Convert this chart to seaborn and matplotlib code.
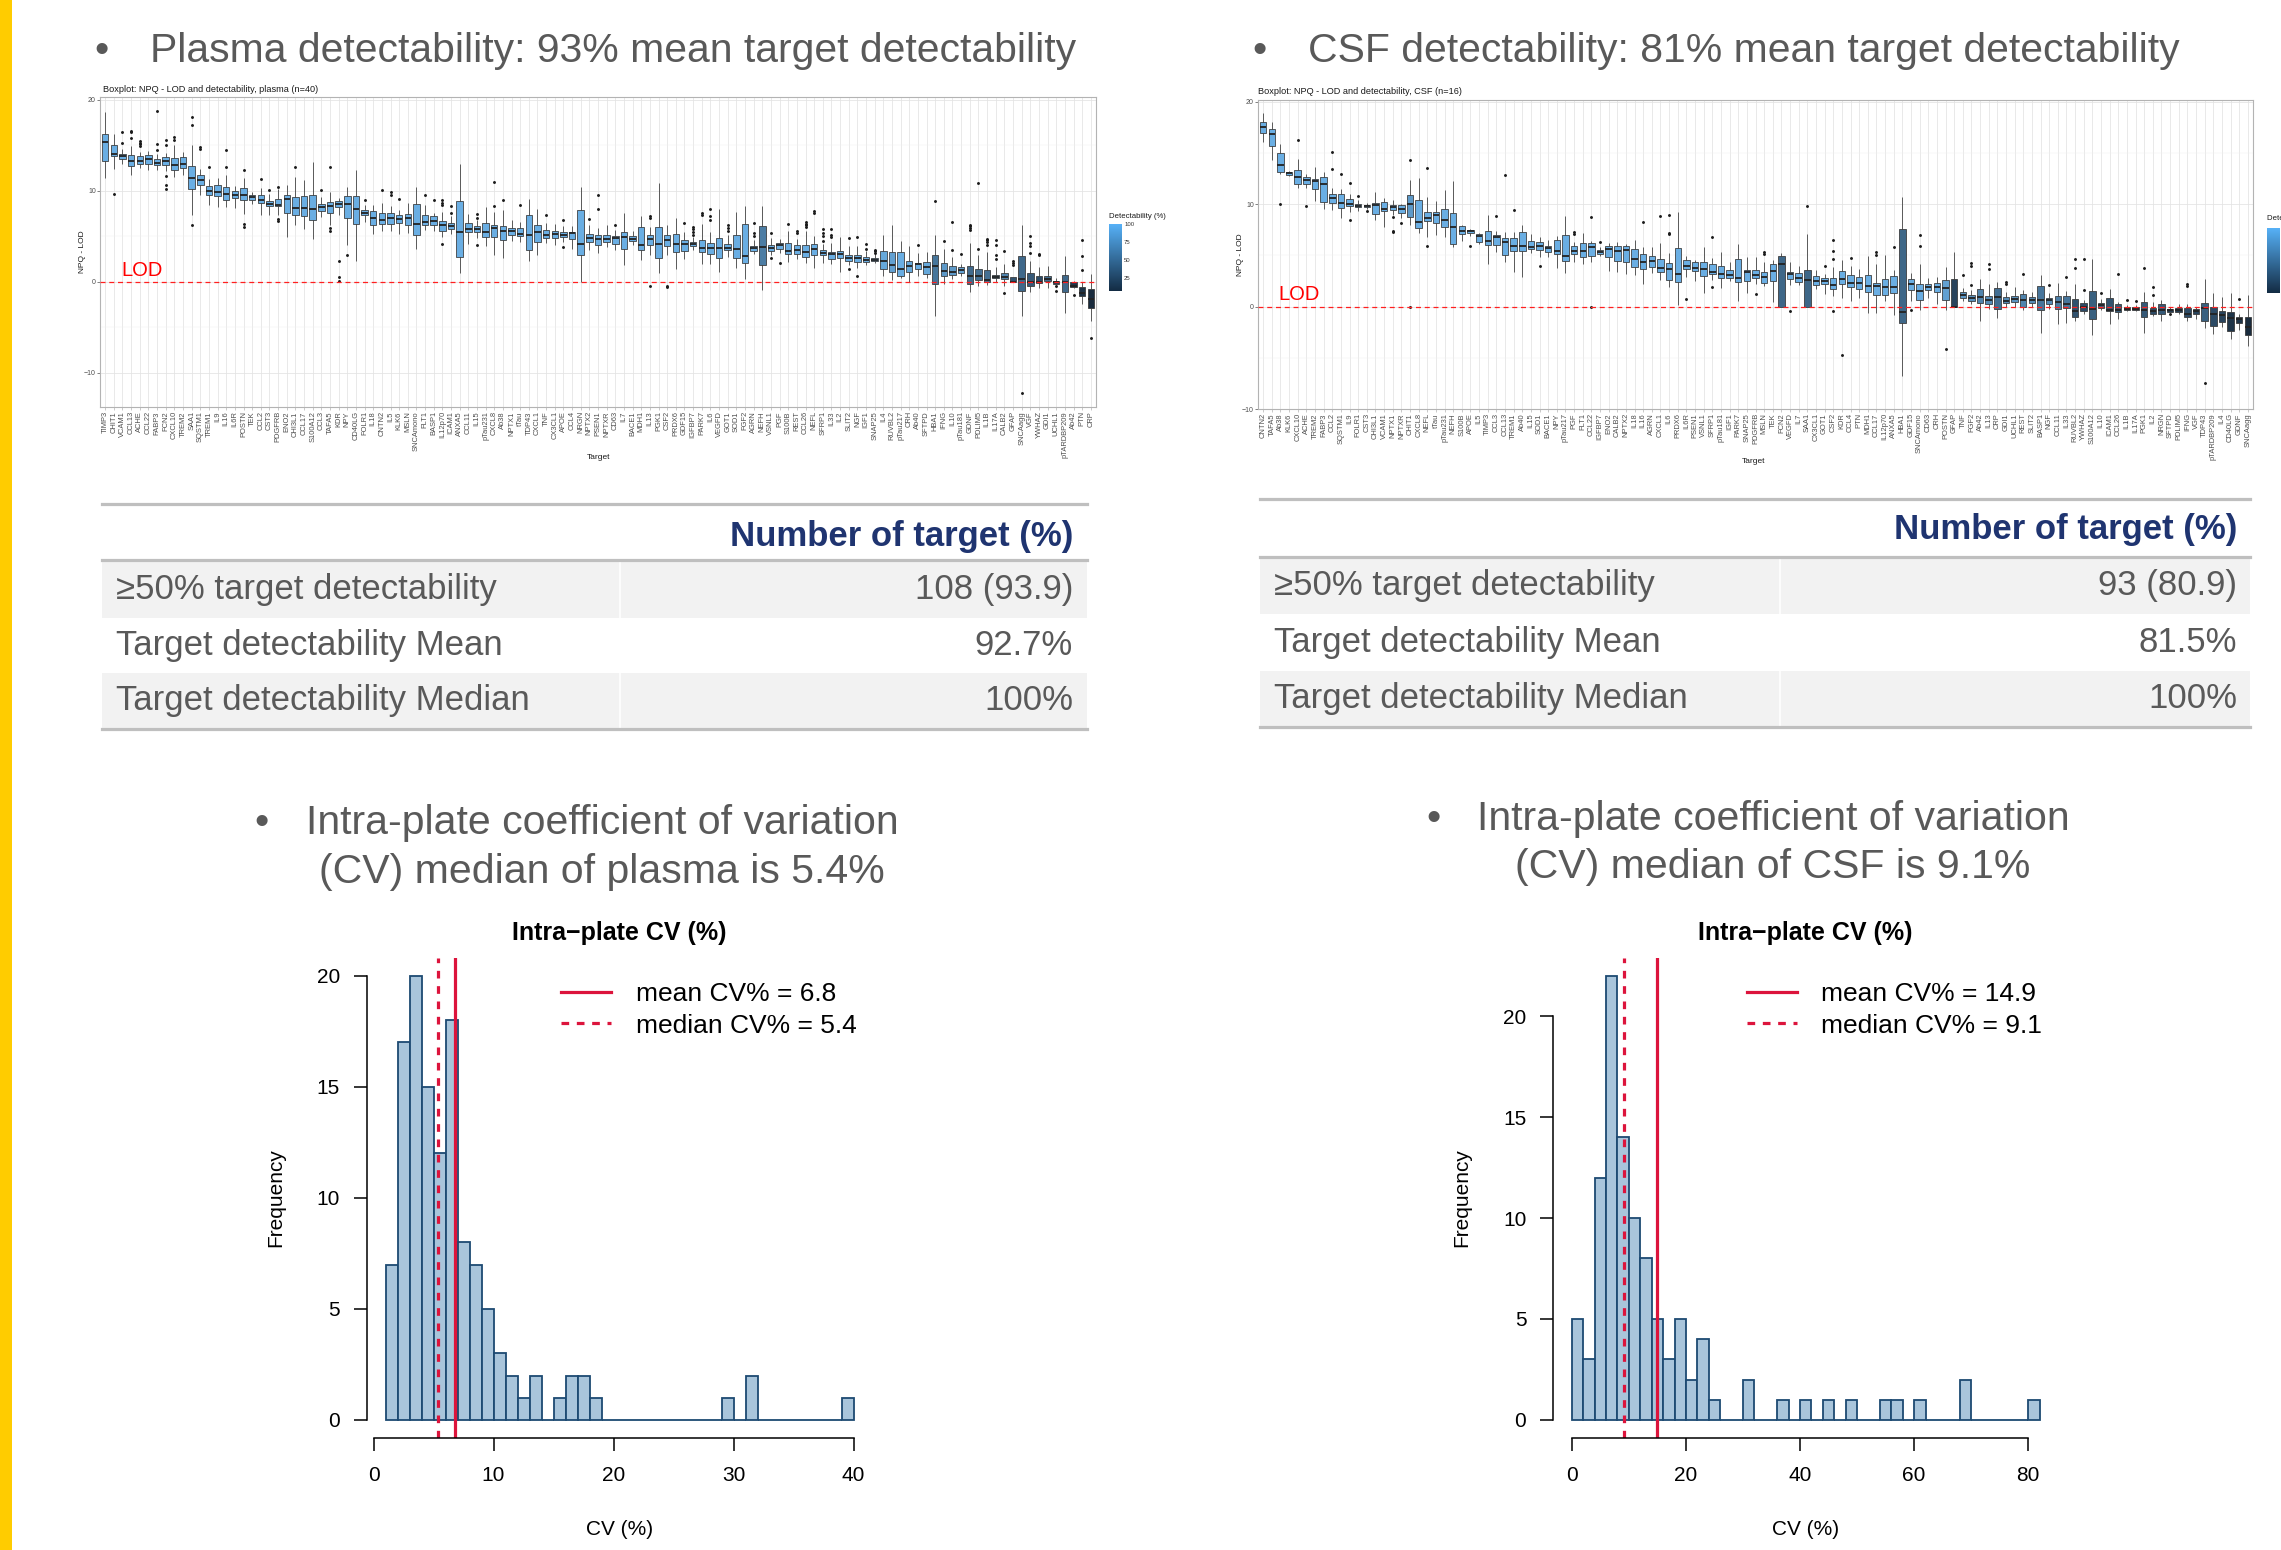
import numpy as np
import pandas as pd
import seaborn as sns
import matplotlib.pyplot as plt
from matplotlib.colors import LinearSegmentedColormap, Normalize
from matplotlib.cm import ScalarMappable
from matplotlib.ticker import MultipleLocator
from matplotlib.patches import Rectangle
from matplotlib.lines import Line2D

plt.rcParams['font.family'] = ['Liberation Sans', 'DejaVu Sans']

W, H = 2281, 1550

# ---------------- boxplot data, plasma (NPQ - LOD) ----------------
plasma_targets = ['TIMP3', 'CHIT1', 'VCAM1', 'CCL13', 'ACHE', 'CCL22', 'FABP3', 'FCN2', 'CXCL10', 'TREM2',
                  'SAA1', 'SQSTM1', 'TREM1', 'IL9', 'IL16', 'IL6R', 'POSTN', 'TEK', 'CCL2', 'CST3',
                  'PDGFRB', 'ENO2', 'CHI3L1', 'CCL17', 'S100A12', 'CCL3', 'TAFA5', 'KDR', 'NPY', 'CD40LG',
                  'FOLR1', 'IL18', 'CNTN2', 'IL5', 'KLK6', 'MSLN', 'SNCAmono', 'FLT1', 'BASP1', 'IL12p70',
                  'ICAM1', 'ANXA5', 'CCL11', 'IL15', 'pTau231', 'CXCL8', 'Ab38', 'NPTX1', 'tTau', 'TDP43',
                  'CXCL1', 'TNF', 'CX3CL1', 'APOE', 'CCL4', 'NRGN', 'NPTX2', 'PSEN1', 'NPTXR', 'CD63',
                  'IL7', 'BACE1', 'MDH1', 'IL13', 'PGK1', 'CSF2', 'PRDX6', 'GDF15', 'IGFBP7', 'PARK7',
                  'IL6', 'VEGFD', 'GOT1', 'SOD1', 'FGF2', 'AGRN', 'NEFH', 'VSNL1', 'PGF', 'S100B',
                  'REST', 'CCL26', 'NEFL', 'SFRP1', 'IL33', 'IL2', 'SLIT2', 'NGF', 'IGF1', 'SNAP25',
                  'IL4', 'RUVBL2', 'pTau217', 'CRH', 'Ab40', 'SFTPD', 'HBA1', 'IFNG', 'IL10', 'pTau181',
                  'GDNF', 'PDLIM5', 'IL1B', 'IL17A', 'CALB2', 'GFAP', 'SNCAagg', 'VGF', 'YWHAZ', 'GDI1',
                  'UCHL1', 'pTARDBP209', 'Ab42', 'PTN', 'CRP']
plasma_lo = [11.4, 12.4, 12.9, 11.8, 12.5, 12.3, 12.3, 12.2, 11.5, 11.7,
             7.3, 9.5, 8.5, 8.2, 8.2, 8.1, 7.5, 8.6, 7.4, 7.4,
             7.4, 4.9, 6.3, 5.8, 4.7, 7.1, 6.3, 7.3, 4.0, 2.3,
             6.6, 5.3, 5.6, 5.6, 5.3, 5.4, 3.6, 5.7, 5.6, 4.9,
             5.3, 1.0, 4.2, 4.8, 3.9, 2.9, 2.6, 4.5, 4.4, 2.3,
             2.9, 4.3, 4.0, 4.4, 3.6, 0.0, 3.5, 3.2, 3.8, 3.5,
             1.9, 4.1, 2.4, 3.0, 1.0, 3.0, 1.4, 2.5, 3.5, 2.0,
             2.0, 1.1, 2.7, 1.5, 0.3, 3.1, -0.9, 3.0, 3.2, 2.2,
             2.5, 2.1, 1.5, 2.1, 2.0, 1.1, 1.8, 1.5, 1.9, 2.1,
             0.7, 0.2, 0.4, 0.0, 0.7, 0.4, -3.8, -0.2, 0.3, 0.6,
             -1.1, -0.4, -0.3, 0.0, -0.4, 0.0, -3.8, -1.1, -0.7, -0.7,
             -0.2, -3.4, -0.7, -2.4, -4.3]
plasma_q1 = [13.3, 13.8, 13.5, 12.7, 13.0, 13.0, 12.8, 12.8, 12.3, 12.5,
             10.2, 10.7, 9.6, 9.4, 9.0, 9.2, 9.0, 9.0, 8.7, 8.3,
             8.3, 7.6, 7.4, 7.2, 6.8, 7.8, 7.6, 8.2, 7.0, 6.4,
             7.3, 6.3, 6.4, 6.4, 6.5, 6.3, 5.1, 6.3, 6.2, 5.6,
             5.8, 2.7, 5.5, 5.5, 4.9, 4.9, 4.6, 5.2, 5.0, 3.5,
             4.4, 4.8, 4.8, 4.9, 4.7, 2.9, 4.4, 4.1, 4.4, 4.2,
             3.6, 4.5, 3.5, 4.0, 2.6, 3.9, 3.3, 3.4, 3.9, 3.3,
             3.1, 2.6, 3.5, 2.6, 2.1, 3.4, 1.8, 3.4, 3.6, 3.1,
             3.1, 2.7, 2.9, 3.0, 2.5, 2.6, 2.3, 2.2, 2.2, 2.3,
             1.4, 1.1, 0.7, 1.1, 1.4, 0.9, -0.2, 0.6, 0.8, 1.0,
             -0.2, 0.2, 0.0, 0.4, 0.3, 0.0, -1.0, -0.4, -0.1, 0.1,
             -0.2, -1.1, -0.6, -1.6, -2.9]
plasma_med = [15.4, 14.1, 13.8, 13.3, 13.3, 13.5, 13.1, 13.3, 12.8, 12.9,
              11.4, 11.2, 10.0, 9.9, 9.7, 9.6, 9.6, 9.3, 9.0, 8.6,
              8.5, 9.1, 8.1, 8.1, 8.0, 8.2, 8.3, 8.6, 8.6, 8.0,
              7.6, 7.0, 6.8, 7.0, 6.9, 7.0, 6.4, 6.6, 6.7, 6.2,
              6.1, 5.5, 5.8, 5.8, 5.5, 5.9, 5.6, 5.6, 5.3, 5.2,
              5.5, 5.2, 5.3, 5.1, 5.4, 4.2, 4.8, 4.7, 4.7, 4.8,
              4.9, 4.7, 4.1, 4.7, 4.2, 4.6, 4.2, 4.2, 4.2, 3.7,
              3.7, 3.7, 3.7, 3.6, 2.8, 3.7, 3.8, 3.7, 4.0, 3.4,
              3.5, 3.3, 3.6, 3.2, 3.1, 3.1, 2.6, 2.6, 2.4, 2.4,
              2.3, 1.9, 1.4, 1.7, 2.0, 1.6, 1.7, 1.2, 1.1, 1.3,
              0.6, 0.6, 0.2, 0.5, 0.5, 0.0, 0.3, 0.0, 0.0, 0.3,
              0.0, 0.0, -0.4, -1.2, -1.9]
plasma_q3 = [16.3, 15.0, 14.1, 13.9, 13.8, 13.9, 13.5, 13.7, 13.6, 13.7,
             12.7, 11.8, 10.5, 10.7, 10.4, 10.0, 10.3, 9.6, 9.6, 8.9,
             9.1, 9.6, 9.3, 9.4, 9.5, 8.6, 8.8, 8.9, 9.4, 9.4,
             7.9, 7.8, 7.6, 7.6, 7.4, 7.5, 8.6, 7.3, 7.2, 6.7,
             6.5, 8.9, 6.5, 6.1, 6.5, 6.3, 6.1, 5.9, 5.9, 7.3,
             6.3, 5.7, 5.6, 5.5, 5.5, 7.9, 5.3, 5.2, 5.2, 5.0,
             5.5, 5.0, 6.0, 5.1, 6.0, 5.1, 5.3, 4.6, 4.4, 4.6,
             4.3, 4.8, 4.2, 5.2, 6.4, 3.9, 6.1, 4.0, 4.3, 4.3,
             4.0, 4.1, 4.2, 3.5, 3.3, 3.4, 2.9, 3.0, 2.7, 2.6,
             3.4, 3.3, 3.3, 2.3, 2.1, 2.2, 2.9, 2.1, 1.7, 1.6,
             1.7, 1.4, 1.3, 0.8, 1.0, 0.5, 2.8, 1.0, 0.7, 0.6,
             0.1, 0.8, 0.0, -0.6, -0.8]
plasma_hi = [18.7, 16.3, 14.6, 14.9, 14.3, 14.4, 14.0, 14.2, 15.0, 14.3,
             15.0, 12.4, 11.3, 11.4, 11.8, 10.5, 11.4, 9.9, 10.3, 9.7,
             10.2, 10.7, 11.5, 11.2, 13.2, 9.3, 9.9, 9.2, 10.4, 12.3,
             8.5, 8.5, 8.7, 8.3, 7.9, 8.7, 10.4, 8.5, 7.6, 7.7,
             7.2, 13.0, 7.5, 6.8, 8.2, 7.7, 7.9, 6.8, 6.6, 9.1,
             8.0, 6.5, 6.4, 6.1, 6.1, 10.4, 6.3, 5.9, 6.2, 5.7,
             7.6, 5.6, 7.2, 6.0, 10.9, 6.3, 7.0, 5.5, 4.9, 6.4,
             5.5, 8.0, 5.2, 7.7, 8.3, 4.6, 8.3, 4.8, 4.7, 5.6,
             4.7, 5.6, 5.0, 4.2, 4.3, 4.9, 3.9, 3.9, 3.4, 3.1,
             5.2, 6.3, 4.5, 3.9, 3.2, 3.3, 5.1, 3.6, 2.7, 2.0,
             4.3, 3.0, 3.3, 1.6, 2.0, 0.5, 6.3, 2.3, 1.6, 1.7,
             0.4, 2.8, 0.1, 0.0, 0.9]
plasma_det = [100] * 76 + [65] + [100] * 13 + [95, 90, 100, 95, 100, 95, 60, 85, 85, 90,
                                               52, 55, 55, 60, 70, 35, 50, 40, 30, 55,
                                               20, 50, 15, 12, 7]
plasma_outliers = {
    'CHIT1': [9.7], 'VCAM1': [15.3, 16.5], 'CCL13': [15.8, 16.5, 16.6], 'ACHE': [14.9, 15.1, 15.3, 15.5],
    'FABP3': [14.5, 15.2, 18.8], 'FCN2': [15.0, 15.6, 11.6, 10.6, 10.2], 'CXCL10': [15.6, 15.9],
    'SAA1': [6.2, 17.2, 18.1], 'SQSTM1': [14.6, 14.8], 'TREM1': [12.6], 'IL16': [12.6, 14.5],
    'POSTN': [6.4, 6.0, 12.3], 'CCL2': [11.3], 'CST3': [10.1], 'PDGFRB': [10.4, 6.9, 6.7],
    'CHI3L1': [12.6], 'CCL3': [10.1], 'TAFA5': [12.6, 5.6, 5.9], 'KDR': [2.3, 0.5, 0.1], 'NPY': [2.9],
    'FOLR1': [9.0], 'CNTN2': [10.1], 'IL5': [9.5, 9.9], 'KLK6': [9.1], 'FLT1': [9.6], 'BASP1': [9.0],
    'IL12p70': [4.2, 8.5, 8.7, 9.0], 'ICAM1': [7.6, 8.3], 'IL15': [4.0, 7.0, 7.5], 'CXCL8': [8.3, 11.0],
    'Ab38': [9.0], 'tTau': [8.4], 'TNF': [7.3], 'APOE': [3.8, 6.8], 'NPTX2': [6.9], 'PSEN1': [8.0, 9.6],
    'CD63': [6.3], 'IL13': [7.0, 7.2, -0.5], 'CSF2': [-0.4, -0.6], 'GDF15': [6.5],
    'IGFBP7': [5.2, 5.5, 5.8, 6.0], 'PARK7': [7.4, 7.6], 'IL6': [6.8, 7.2, 8.0], 'GOT1': [5.6, 5.9, 6.2],
    'AGRN': [5.0, 5.4, 6.5], 'VSNL1': [2.6, 5.4], 'PGF': [2.1], 'S100B': [6.4], 'REST': [5.4, 5.6],
    'CCL26': [6.0, 6.2, 6.4, 6.6], 'NEFL': [7.6, 7.8], 'SFRP1': [4.5, 5.0, 5.4, 5.8], 'IL33': [4.9, 5.2, 5.8],
    'SLIT2': [1.4, 4.8], 'NGF': [0.7, 4.9], 'IGF1': [3.6, 4.2], 'SNAP25': [3.2, 3.4, 3.5], 'Ab40': [4.0],
    'HBA1': [8.9], 'IFNG': [4.5], 'IL10': [3.5, 6.6], 'pTau181': [3.1], 'GDNF': [5.7, 5.9, 6.1, 6.3],
    'PDLIM5': [3.6, 10.9], 'IL1B': [4.1, 4.4, 4.6, 4.7], 'IL17A': [2.5, 3.0, 4.1, 4.6], 'CALB2': [-1.2, 3.4],
    'GFAP': [1.9, 2.1, 2.3], 'SNCAagg': [-12.2], 'VGF': [3.2, 3.9, 4.3, 5.0], 'YWHAZ': [2.9, 3.1],
    'UCHL1': [-0.4, -1.0], 'Ab42': [-1.4], 'PTN': [1.3, 2.8, 4.6], 'CRP': [-6.2],
}

# ---------------- boxplot data, CSF (NPQ - LOD) ----------------
csf_targets = ['CNTN2', 'TAFA5', 'Ab38', 'KLK6', 'CXCL10', 'ACHE', 'TREM2', 'FABP3', 'CCL2', 'SQSTM1',
               'IL9', 'FOLR1', 'CST3', 'CHI3L1', 'VCAM1', 'NPTX1', 'NPTXR', 'CHIT1', 'CXCL8', 'NEFL',
               'tTau', 'pTau231', 'NEFH', 'S100B', 'APOE', 'IL5', 'TIMP3', 'CCL3', 'CCL13', 'TREM1',
               'Ab40', 'IL15', 'SOD1', 'BACE1', 'NPY', 'pTau217', 'PGF', 'FLT1', 'CCL22', 'IGFBP7',
               'ENO2', 'CALB2', 'NPTX2', 'IL18', 'IL16', 'AGRN', 'CXCL1', 'IL6', 'PRDX6', 'IL6R',
               'PSEN1', 'VSNL1', 'SFRP1', 'pTau181', 'IGF1', 'PARK7', 'SNAP25', 'PDGFRB', 'MSLN', 'TEK',
               'FCN2', 'VEGFD', 'IL7', 'SAA1', 'CX3CL1', 'GOT1', 'CSF2', 'KDR', 'CCL4', 'PTN',
               'MDH1', 'CCL17', 'IL12p70', 'ANXA5', 'HBA1', 'GDF15', 'SNCAmono', 'CD63', 'CRH', 'POSTN',
               'GFAP', 'TNF', 'FGF2', 'Ab42', 'IL13', 'CRP', 'GDI1', 'UCHL1', 'REST', 'SLIT2',
               'BASP1', 'NGF', 'CCL11', 'IL33', 'RUVBL2', 'YWHAZ', 'S100A12', 'IL10', 'ICAM1', 'CCL26',
               'IL1B', 'IL17A', 'PGK1', 'IL2', 'NRGN', 'SFTPD', 'PDLIM5', 'IFNG', 'VGF', 'TDP43',
               'pTARDBP209', 'IL4', 'CD40LG', 'GDNF', 'SNCAagg']
csf_lo = [16.1, 14.3, 12.9, 12.7, 11.6, 11.6, 10.3, 9.5, 9.4, 8.6,
          9.2, 9.3, 9.5, 8.4, 7.8, 8.9, 8.6, 8.0, 7.2, 6.8,
          7.0, 6.8, 5.8, 6.4, 6.9, 6.1, 4.1, 5.3, 4.3, 3.4,
          2.9, 5.2, 4.8, 4.8, 3.8, 3.3, 4.3, 4.1, 4.3, 4.9,
          3.5, 3.4, 3.2, 3.1, 2.2, 3.3, 2.6, 1.9, 0.1, 2.9,
          2.5, 1.3, 2.6, 1.8, 2.5, 0.5, 1.3, 2.2, 2.0, 0.4,
          0.0, 2.1, 2.1, 0.0, 1.7, 1.2, 1.0, 0.8, 0.5, 0.8,
          -0.6, -0.6, 0.5, -0.8, -6.8, 0.5, -0.3, 0.8, 0.2, -0.3,
          0.0, 0.5, 0.2, -1.4, -0.2, -1.1, 0.0, 0.0, -0.3, 0.0,
          -2.6, -0.2, -1.7, -1.6, -1.4, -0.7, -2.8, -0.3, -1.7, -1.2,
          -0.4, -0.4, -2.6, -0.9, -1.4, -0.5, -0.7, -1.4, -1.2, -2.1,
          -2.7, -2.0, -3.2, -2.3, -3.9]
csf_q1 = [16.9, 15.7, 13.1, 12.8, 12.0, 12.0, 11.5, 10.2, 10.1, 9.6,
          9.8, 9.7, 9.7, 9.0, 9.3, 9.4, 9.1, 8.7, 7.7, 8.3,
          8.1, 7.8, 6.1, 7.1, 7.2, 6.3, 6.0, 6.0, 5.0, 5.4,
          5.4, 5.6, 5.5, 5.3, 5.1, 4.4, 5.1, 4.8, 4.9, 5.1,
          4.8, 4.4, 4.3, 3.9, 3.7, 3.9, 3.4, 2.6, 2.4, 3.7,
          3.5, 3.0, 3.2, 2.8, 2.8, 2.4, 2.5, 2.8, 2.3, 2.5,
          0.0, 2.7, 2.4, 0.0, 2.1, 2.2, 1.7, 2.2, 1.9, 1.7,
          1.4, 1.1, 1.1, 1.3, -1.6, 1.6, 0.6, 1.6, 1.4, 0.6,
          0.0, 0.8, 0.5, 0.3, 0.2, -0.2, 0.3, 0.4, 0.0, 0.3,
          -0.3, 0.2, -0.2, -0.1, -1.0, -0.4, -1.2, -0.1, -0.4, -0.5,
          -0.3, -0.3, -1.0, -0.7, -0.7, -0.5, -0.5, -1.0, -0.7, -1.4,
          -1.9, -1.5, -2.4, -1.6, -2.8]
csf_med = [17.5, 16.8, 13.8, 13.0, 12.6, 12.3, 12.2, 12.0, 10.6, 10.1,
           10.0, 9.8, 9.8, 9.9, 9.5, 9.7, 9.5, 10.0, 8.2, 8.6,
           8.9, 8.4, 7.8, 7.4, 7.4, 6.9, 6.4, 6.8, 6.3, 5.9,
           5.9, 5.8, 5.9, 5.7, 5.4, 4.9, 5.4, 5.4, 5.8, 5.3,
           5.6, 5.4, 5.5, 4.6, 4.3, 4.4, 3.8, 3.7, 3.2, 4.0,
           3.8, 3.7, 3.4, 3.2, 3.1, 2.8, 3.4, 3.1, 2.9, 3.5,
           4.1, 3.2, 2.8, 2.6, 2.5, 2.5, 2.1, 2.7, 2.3, 2.3,
           2.0, 2.0, 1.9, 1.9, -0.5, 2.2, 1.5, 1.9, 1.9, 1.8,
           0.0, 1.1, 0.8, 0.9, 0.6, 0.9, 0.5, 0.7, 0.6, 0.6,
           0.6, 0.6, 0.4, 0.2, -0.4, 0.0, -0.2, 0.1, -0.3, -0.3,
           -0.2, -0.2, -0.3, -0.4, -0.3, -0.3, -0.3, -0.7, -0.4, -0.1,
           -0.7, -0.8, -1.1, -1.2, -2.0]
csf_q3 = [18.0, 17.3, 15.0, 13.1, 13.3, 12.6, 12.4, 12.6, 11.0, 11.0,
          10.5, 10.0, 9.9, 10.1, 10.2, 9.9, 9.9, 10.9, 10.4, 9.2,
          9.2, 9.5, 9.1, 7.9, 7.5, 7.1, 7.4, 7.0, 6.7, 6.7,
          7.3, 6.4, 6.3, 5.9, 6.5, 7.0, 5.9, 6.2, 6.2, 5.5,
          5.9, 5.9, 5.9, 5.6, 5.1, 4.9, 4.6, 4.2, 5.7, 4.5,
          4.3, 4.3, 4.1, 4.0, 3.6, 4.6, 3.6, 3.6, 3.4, 4.1,
          4.9, 3.4, 3.3, 3.6, 3.0, 2.8, 2.8, 3.5, 3.1, 2.9,
          3.1, 2.3, 2.7, 3.0, 7.6, 2.7, 2.2, 2.2, 2.3, 2.6,
          2.7, 1.4, 1.1, 1.7, 1.0, 1.8, 0.9, 1.0, 1.2, 0.9,
          2.0, 0.8, 1.0, 1.0, 0.7, 0.3, 1.5, 0.3, 0.8, 0.2,
          0.0, 0.0, 0.4, -0.1, 0.2, -0.2, -0.1, -0.1, -0.2, 0.3,
          0.0, -0.4, -0.5, -1.0, -1.0]
csf_hi = [18.9, 18.0, 15.9, 13.2, 14.4, 12.9, 13.6, 13.1, 11.6, 11.5,
          11.0, 10.4, 10.1, 11.2, 10.6, 10.4, 10.0, 12.3, 12.5, 10.7,
          10.3, 11.4, 12.2, 8.0, 7.6, 7.2, 8.9, 7.4, 7.3, 7.3,
          8.0, 7.1, 6.8, 6.5, 6.9, 8.8, 6.3, 7.2, 6.4, 5.8,
          6.2, 6.3, 6.1, 6.5, 5.8, 5.8, 6.2, 5.2, 9.2, 4.9,
          4.5, 5.8, 4.7, 5.3, 4.3, 6.1, 4.8, 4.8, 4.3, 4.5,
          5.2, 4.3, 4.0, 7.1, 3.6, 3.2, 3.9, 4.5, 4.0, 3.7,
          4.9, 4.1, 5.0, 3.6, 10.7, 3.3, 4.1, 2.8, 2.9, 3.9,
          5.3, 1.8, 1.6, 2.7, 2.2, 2.4, 1.4, 1.9, 1.6, 1.4,
          3.1, 1.3, 2.3, 1.5, 2.2, 0.6, 4.6, 0.7, 1.7, 0.4,
          0.1, 0.1, 1.4, 0.4, 0.6, 0.0, 0.2, 0.2, 0.0, 2.7,
          1.3, 0.9, 1.3, -0.7, 1.1]
csf_det = ([100] * 17 + [85] + [100] * 42 + [50, 100, 100, 50] + [100] * 10 + [50]
           + [100, 100, 100, 100, 90, 25, 85, 80, 70, 75, 55, 75, 80, 70, 75, 60, 75, 65, 60,
              35, 30, 45, 45, 35, 40, 25, 25, 40, 30, 40, 20, 20, 30, 25, 45, 30, 25, 15, 15, 8])
csf_outliers = {
    'Ab38': [10.0], 'CXCL10': [16.2], 'ACHE': [9.8], 'CCL2': [13.4, 15.1], 'SQSTM1': [12.9],
    'IL9': [8.4, 12.1], 'FOLR1': [10.8], 'CST3': [9.3], 'NPTX1': [8.7, 7.3, 7.4], 'NPTXR': [8.1],
    'CHIT1': [14.3, 0.0], 'NEFL': [5.9, 13.5], 'APOE': [5.9], 'CCL3': [8.8], 'CCL13': [12.8],
    'TREM1': [9.4], 'SOD1': [4.0], 'PGF': [7.1, 7.3], 'CCL22': [8.7, 0.0], 'IGFBP7': [6.3],
    'IL16': [8.2], 'CXCL1': [8.8], 'IL6': [7.1, 7.2, 8.9], 'IL6R': [0.7], 'SFRP1': [1.9, 6.8],
    'PDGFRB': [1.2], 'MSLN': [5.1, 5.3], 'VEGFD': [-0.4], 'SAA1': [9.8], 'GOT1': [4.0],
    'CSF2': [6.5, 5.4, 4.6, -0.4], 'KDR': [-4.7], 'CCL4': [4.7], 'CCL17': [5.3, 5.0], 'ANXA5': [5.8],
    'GDF15': [-0.3], 'SNCAmono': [7.0, 5.9], 'POSTN': [-4.1], 'TNF': [3.1], 'FGF2': [4.2, 4.0, 2.1],
    'IL13': [4.1, 3.7], 'GDI1': [2.4, 2.2], 'REST': [3.2], 'NGF': [2.1], 'IL33': [2.9],
    'RUVBL2': [4.6, 3.8], 'YWHAZ': [4.6, 1.6], 'IL10': [1.3], 'CCL26': [3.2], 'IL1B': [0.6],
    'IL17A': [0.5], 'PGK1': [3.8], 'IL2': [1.9, 1.1], 'SFTPD': [-0.75], 'IFNG': [2.2, 2.0],
    'TDP43': [-7.5], 'GDNF': [0.7],
}

# ---------------- intra-plate CV histograms ----------------
plasma_cv_edges = list(range(1, 41))
plasma_cv_counts = [7, 17, 20, 15, 12, 18, 8, 7, 5, 3, 2, 1, 2, 0, 1, 2, 2, 1,
                    0, 0, 0, 0, 0, 0, 0, 0, 0, 0, 1, 0, 2, 0, 0, 0, 0, 0, 0, 0, 1]
plasma_cv_mean, plasma_cv_median = 6.8, 5.4

csf_cv_edges = list(range(0, 84, 2))
csf_cv_counts = [5, 3, 12, 22, 14, 10, 8, 5, 3, 5, 2, 4, 1, 0, 0, 2, 0, 0, 1, 0, 1,
                 0, 1, 0, 1, 0, 0, 1, 1, 0, 1, 0, 0, 0, 2, 0, 0, 0, 0, 0, 1]
csf_cv_mean, csf_cv_median = 14.9, 9.1

# ---------------- table ----------------
row_labels = ['\u226550% target detectability', 'Target detectability Mean', 'Target detectability Median']
plasma_table = ['108 (93.9)', '92.7%', '100%']
csf_table = ['93 (80.9)', '81.5%', '100%']

GREY_TXT = '#595959'
NAVY = '#1F3470'
RED = '#DC143C'
DASH = (0, (2.4, 2.4))
cmap = LinearSegmentedColormap.from_list('gg', ['#132B43', '#56B1F7'])


def fx(x):
    return x / W


def fy(y):
    return 1 - y / H


def box_axes(rect, targets, lo, q1, med, q3, hi, det, outliers, ylim, title, title_xy, lod_xy):
    ax = fig.add_axes(rect)
    rows = []
    for t, a, b, c, d, e in zip(targets, lo, q1, med, q3, hi):
        for v in (a, b, c, d, e):
            rows.append((t, v))
    df = pd.DataFrame(rows, columns=['Target', 'value'])
    norm = Normalize(min(det), 100)
    pal = {t: cmap(norm(d)) for t, d in zip(targets, det)}
    sns.boxplot(data=df, x='Target', y='value', hue='Target', palette=pal, order=targets,
                legend=False, whis=(0, 100), showfliers=False, showcaps=False, width=0.75,
                linewidth=0.55, linecolor='#333333', medianprops={'linewidth': 1.3, 'color': '#222222'},
                ax=ax, zorder=2)
    out = pd.DataFrame([(t, v) for t, vs in outliers.items() for v in vs], columns=['Target', 'value'])
    sns.stripplot(data=out, x='Target', y='value', order=targets, jitter=False, color='#1a1a1a',
                  size=2.1, ax=ax, zorder=3)
    ax.axhline(0, color='#FF2020', ls=(0, (4, 3)), lw=0.9, zorder=4)
    ax.text(lod_xy[0], lod_xy[1], 'LOD', color='#FF0000', fontsize=14.5, va='center', ha='left')
    n = len(targets)
    ax.set_xlim(-0.6, n - 0.4)
    ax.set_ylim(*ylim)
    ax.set_yticks([-10, 0, 10, 20])
    ax.yaxis.set_minor_locator(MultipleLocator(5))
    ax.set_xticks(range(n))
    ax.set_xticklabels(targets, rotation=90, fontsize=5.4, color='#4D4D4D')
    ax.tick_params(axis='y', labelsize=5, colors='#4D4D4D', length=2, width=0.5, pad=1)
    ax.tick_params(axis='x', length=2, width=0.5, pad=1, color='#B3B3B3')
    ax.tick_params(which='minor', length=0)
    ax.set_axisbelow(True)
    ax.grid(which='major', color='#E3E3E3', lw=0.55)
    ax.grid(which='minor', axis='y', color='#F0F0F0', lw=0.35)
    for s in ax.spines.values():
        s.set_color('#B3B3B3')
        s.set_linewidth(0.8)
    ax.set_xlabel('Target', fontsize=6, color='#1a1a1a')
    ax.set_ylabel('NPQ - LOD', fontsize=6, color='#1a1a1a')
    ax.yaxis.set_label_coords(-0.014, 0.5)
    fig.text(fx(title_xy[0]), fy(title_xy[1]), title, fontsize=6.6, va='center', color='#1a1a1a')
    return ax, norm


def colorbar(rect, norm, title_xy):
    cax = fig.add_axes(rect)
    cb = fig.colorbar(ScalarMappable(norm=norm, cmap=cmap), cax=cax, ticks=[25, 50, 75, 100])
    cb.outline.set_visible(False)
    cax.tick_params(labelsize=4.3, length=0, pad=1.5, colors='#333333')
    fig.text(fx(title_xy[0]), fy(title_xy[1]), 'Detectability (%)', fontsize=5.6, va='center',
             color='#1a1a1a')


def cv_hist(rect, edges, counts, mean_v, med_v, xlim, ylim, xticks, ybound, legend_x):
    ax = fig.add_axes(rect)
    mids = [(a + b) / 2 for a, b in zip(edges[:-1], edges[1:])]
    sns.histplot(x=mids, weights=counts, bins=edges, color='#A9C5DB', edgecolor='#1D4A72',
                 linewidth=1.3, alpha=1, ax=ax)
    ax.axvline(mean_v, color=RED, lw=2.3)
    ax.axvline(med_v, color=RED, lw=2.3, ls=DASH)
    ax.set_xlim(*xlim)
    ax.set_ylim(*ylim)
    ax.set_xticks(xticks)
    ax.set_yticks([0, 5, 10, 15, 20])
    for s in ('top', 'right'):
        ax.spines[s].set_visible(False)
    ax.spines['left'].set_bounds(*ybound)
    ax.spines['bottom'].set_bounds(xticks[0], xticks[-1])
    for s in ('left', 'bottom'):
        ax.spines[s].set_linewidth(1.1)
        ax.spines[s].set_color('black')
    ax.tick_params(labelsize=15, length=9.3, width=1.1, direction='out')
    ax.tick_params(axis='y', pad=10)
    ax.tick_params(axis='x', pad=11)
    ax.set_xlabel('CV (%)', fontsize=15)
    ax.set_ylabel('Frequency', fontsize=15)
    ax.xaxis.set_label_coords(0.5, -0.172)
    ax.yaxis.set_label_coords(-0.162, 0.5)
    ax.text(0.5, 1.052, 'Intra\u2212plate CV (%)', transform=ax.transAxes, ha='center', va='center',
            fontsize=18, fontweight='bold')
    handles = [Line2D([], [], color=RED, lw=2.3),
               Line2D([], [], color=RED, lw=2.3, ls=DASH)]
    labels = ['mean CV%% = %s' % mean_v, 'median CV%% = %s' % med_v]
    ax.legend(handles, labels, loc='upper left', bbox_to_anchor=(legend_x, 0.950), frameon=False,
              fontsize=19, handlelength=1.9, handletextpad=0.93, borderpad=0, borderaxespad=0,
              labelspacing=0.29)
    return ax


def table(x0, x1, top, line2, rows_y, bottom, divider, text_l, text_r, hdr_y, values):
    art = []
    for i, (ya, yb) in enumerate(zip(rows_y[:-1], rows_y[1:])):
        if i != 1:
            art.append(Rectangle((fx(x0), fy(yb)), fx(x1) - fx(x0), fy(ya) - fy(yb),
                                 transform=fig.transFigure, facecolor='#F2F2F2', edgecolor='none'))
            art.append(Line2D([fx(divider)] * 2, [fy(ya), fy(yb)], transform=fig.transFigure,
                              color='white', lw=1.2))
    for y in (top, line2, bottom):
        art.append(Line2D([fx(x0), fx(x1)], [fy(y)] * 2, transform=fig.transFigure,
                          color='#BFBFBF', lw=2.3))
    for a in art:
        fig.add_artist(a)
    fig.text(fx(text_r), fy(hdr_y), 'Number of target (%)', ha='right', va='center', fontsize=25,
             fontweight='bold', color=NAVY)
    for i, (lab, val) in enumerate(zip(row_labels, values)):
        yc = (rows_y[i] + rows_y[i + 1]) / 2
        fig.text(fx(text_l), fy(yc), lab, ha='left', va='center', fontsize=25, color=GREY_TXT)
        fig.text(fx(text_r), fy(yc), val, ha='right', va='center', fontsize=25, color=GREY_TXT)


fig = plt.figure(figsize=(W / 100, H / 100), dpi=100)
fig.add_artist(Rectangle((0, 0), fx(12), 1, transform=fig.transFigure, facecolor='#FFCC00',
                         edgecolor='none'))

# slide headings
fig.text(fx(101), fy(61.7), '\u2022', ha='center', va='baseline', fontsize=29.3, color=GREY_TXT)
fig.text(fx(150), fy(61.7), 'Plasma detectability: 93% mean target detectability', va='baseline',
         fontsize=29.4, color=GREY_TXT)
fig.text(fx(1260), fy(61.7), '\u2022', ha='center', va='baseline', fontsize=29.3, color=GREY_TXT)
fig.text(fx(1308), fy(61.7), 'CSF detectability: 81% mean target detectability', va='baseline',
         fontsize=29.4, color=GREY_TXT)

# boxplots
ax1, n1 = box_axes([fx(100), fy(407), fx(1096) - fx(100), fy(96.7) - fy(407)], plasma_targets,
                   plasma_lo, plasma_q1, plasma_med, plasma_q3, plasma_hi, plasma_det, plasma_outliers,
                   (-13.75, 20.35), 'Boxplot: NPQ - LOD and detectability, plasma (n=40)', (102.7, 89),
                   (1.9, 1.3))
ax1.xaxis.set_label_coords(0.501, -0.151)
colorbar([fx(1109), fy(291), fx(13), fy(224) - fy(291)], n1, (1109, 217))

ax2, n2 = box_axes([fx(1258), fy(409), fx(2253) - fx(1258), fy(100) - fy(409)], csf_targets,
                   csf_lo, csf_q1, csf_med, csf_q3, csf_hi, csf_det, csf_outliers,
                   (-8.8, 20.15), 'Boxplot: NPQ - LOD and detectability, CSF (n=16)', (1258, 91),
                   (1.8, 1.15))
ax2.xaxis.set_label_coords(0.4985, -0.157)
colorbar([fx(2267), fy(293), fx(13), fy(228) - fy(293)], n2, (2267, 219))

# tables
table(101.6, 1087.4, 504, 560, [561.7, 617.7, 672.7, 728.3], 729.3, 619.6, 116, 1073, 536.7,
      plasma_table)
table(1260, 2250, 499, 557, [558, 614, 671, 726], 727, 1780, 1274, 2237, 530, csf_table)

# CV bullets
for bx, cx, y1, y2, l2 in [(262, 602, 834, 883, '(CV) median of plasma is 5.4%'),
                           (1433, 1773, 830, 878, '(CV) median of CSF is 9.1%')]:
    fig.text(fx(bx), fy(y1), '\u2022', ha='center', va='baseline', fontsize=29.3, color=GREY_TXT)
    fig.text(fx(cx), fy(y1), 'Intra-plate coefficient of variation', ha='center', va='baseline',
             fontsize=29.5, color=GREY_TXT)
    fig.text(fx(cx), fy(y2), l2, ha='center', va='baseline', fontsize=29.5, color=GREY_TXT)

# histograms
cv_hist([fx(366.8), fy(1437.7), fx(872.3) - fx(366.8), fy(958.1) - fy(1437.7)], plasma_cv_edges,
        plasma_cv_counts, plasma_cv_mean, plasma_cv_median, (-0.56, 41.56), (-0.8, 20.8),
        [0, 10, 20, 30, 40], (0, 20), 0.384)
cv_hist([fx(1553.1), fy(1437.7), fx(2058.4) - fx(1553.1), fy(958.0) - fy(1437.7)], csf_cv_edges,
        csf_cv_counts, csf_cv_mean, csf_cv_median, (-3.28, 85.28), (-0.88, 22.88),
        [0, 20, 40, 60, 80], (0, 20), 0.383)

fig.savefig('out.png', dpi=100, facecolor='white')
